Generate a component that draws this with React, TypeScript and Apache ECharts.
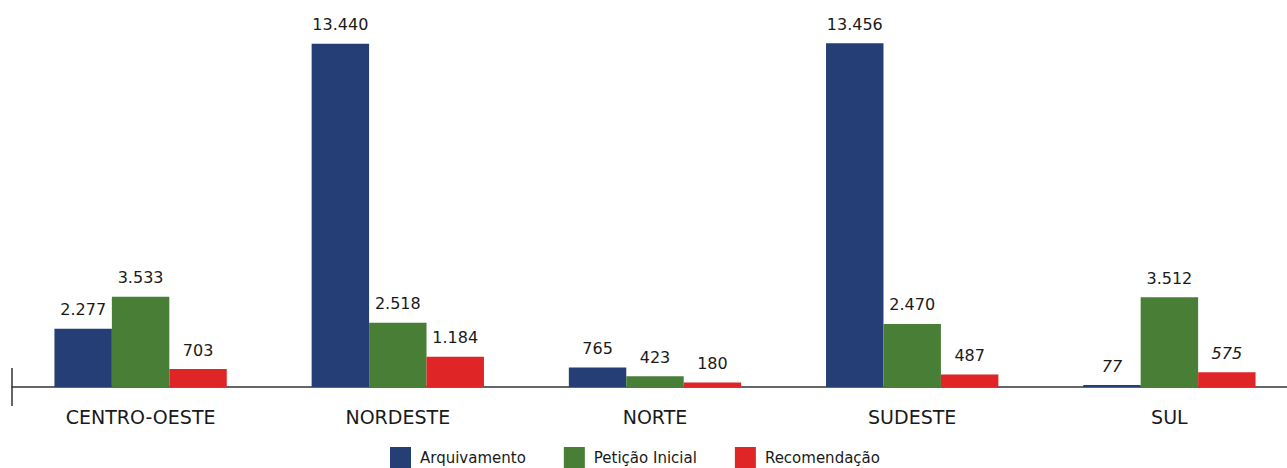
import React, { useEffect, useRef } from "react";
import * as echarts from "echarts";

const categories = ["CENTRO-OESTE", "NORDESTE", "NORTE", "SUDESTE", "SUL"];
const arquivamento = [2277, 13440, 765, 13456, 77];
const peticaoInicial = [3533, 2518, 423, 2470, 3512];
const recomendacao = [703, 1184, 180, 487, 575];
const seriesNames = ["Arquivamento", "Petição Inicial", "Recomendação"];
const colors = ["#253F76", "#487E36", "#E02527"];
const italicLabels: Record<string, number[]> = { "Arquivamento": [4], "Recomendação": [4] };

const fmt = (v: number) => v.toLocaleString("de-DE");

export default function App() {
  const ref = useRef<HTMLDivElement>(null);
  useEffect(() => {
    document.body.style.margin = "0";
    document.body.style.overflow = "hidden";
    const chart = echarts.init(ref.current!, null, { renderer: "svg" });
    const font = "DejaVu Sans";
    const mk = (name: string, data: number[], color: string) => ({
      name,
      type: "bar",
      barGap: "0%",
      barCategoryGap: "33%",
      itemStyle: { color },
      data: data.map((v, i) => ({
        value: v,
        label: (italicLabels[name] || []).includes(i) ? { fontStyle: "italic" } : undefined,
      })),
      label: {
        show: true,
        position: "top",
        distance: 11,
        fontSize: 16,
        fontFamily: font,
        color: "#1a1a1a",
        formatter: (p: any) => fmt(p.value),
      },
    });
    chart.setOption({
      animation: false,
      grid: { left: 12, right: 2, top: 0, bottom: 81, containLabel: false },
      xAxis: {
        type: "category",
        data: categories,
        axisLine: { lineStyle: { color: "#333", width: 1.5 } },
        axisTick: { show: false },
        axisLabel: { fontSize: 19, fontFamily: font, color: "#1a1a1a", margin: 20 },
      },
      yAxis: {
        type: "value",
        min: 0,
        max: 15150,
        show: false,
        splitLine: { show: false },
      },
      legend: {
        bottom: -5,
        left: 385,
        itemWidth: 21,
        itemHeight: 21,
        itemGap: 38,
        icon: "rect",
        textStyle: { fontSize: 15, fontFamily: font, color: "#1a1a1a", padding: [0, 0, 0, 4] },
        data: seriesNames,
      },
      graphic: [
        {
          type: "line",
          shape: { x1: 12, y1: 368, x2: 12, y2: 406 },
          style: { stroke: "#333", lineWidth: 1.5 },
        },
      ],
      series: [
        mk(seriesNames[0], arquivamento, colors[0]),
        mk(seriesNames[1], peticaoInicial, colors[1]),
        mk(seriesNames[2], recomendacao, colors[2]),
      ],
    });
    return () => chart.dispose();
  }, []);
  return <div ref={ref} style={{ width: 1300, height: 468 }} />;
}
